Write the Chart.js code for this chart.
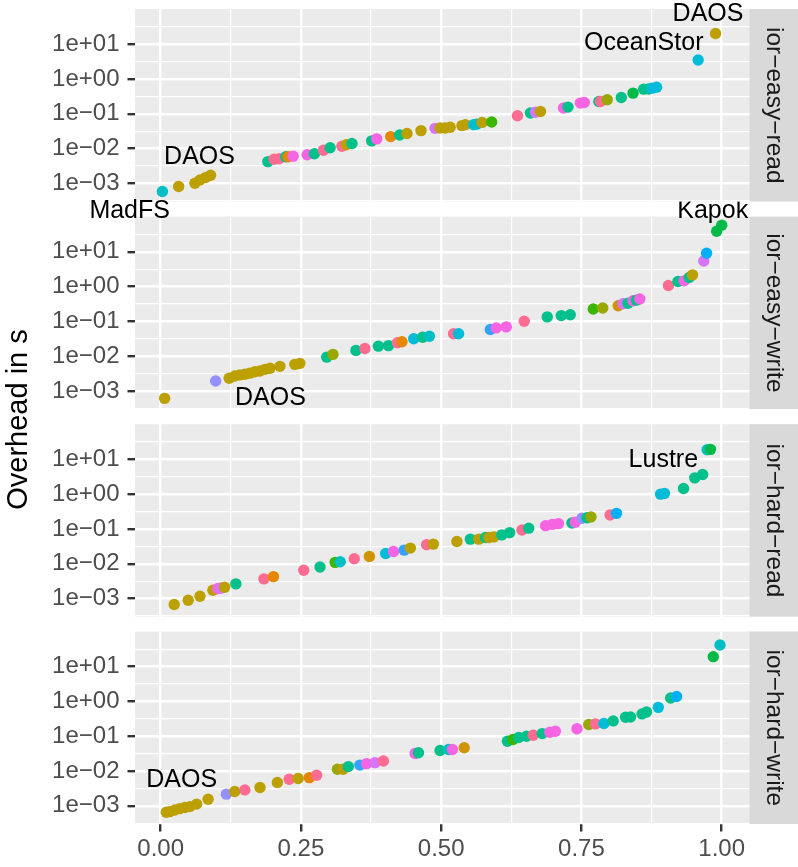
<!DOCTYPE html>
<html><head><meta charset="utf-8">
<script src="https://cdn.jsdelivr.net/npm/chart.js@4/dist/chart.umd.min.js"></script>
<style>
html,body{margin:0;padding:0;background:#ffffff;}
#wrap{position:relative;width:798px;height:867px;overflow:hidden;}
#wrap canvas{position:absolute;left:0;top:0;}
</style></head>
<body><div id="wrap"></div>
<script>
// ---------------- DATA ----------------
const panelNames = ['ior−easy−read', 'ior−easy−write', 'ior−hard−read', 'ior−hard−write'];
const yAxisTitle = 'Overhead in s';
const xTickValues = [0, 0.25, 0.5, 0.75, 1];
const xTickLabels = ['0.00', '0.25', '0.50', '0.75', '1.00'];
const xMinorValues = [0.125, 0.375, 0.625, 0.875];
const yTickValues = [1e-3, 1e-2, 1e-1, 1, 10];
const yTickLabels = ['1e−03', '1e−02', '1e−01', '1e+00', '1e+01'];
const yMinorValues = [3.16e-4, 3.16e-3, 3.16e-2, 0.316, 3.16, 31.6];

const easyReadX = [0.003,0.032,0.061,0.070,0.080,0.089,0.191,0.202,0.211,0.223,0.227,0.236,0.261,0.274,0.290,0.302,0.323,0.331,0.341,0.376,0.385,0.410,0.426,0.439,0.464,0.489,0.498,0.507,0.516,0.537,0.543,0.558,0.563,0.573,0.590,0.636,0.659,0.668,0.677,0.718,0.726,0.748,0.755,0.781,0.784,0.796,0.821,0.842,0.861,0.870,0.876,0.884,0.958,0.989];
const easyReadY = [0.00058,0.00081,0.0010,0.00124,0.00146,0.0017,0.0042,0.0049,0.0051,0.0058,0.0058,0.0060,0.0066,0.0071,0.0089,0.0105,0.0116,0.0128,0.0139,0.0166,0.0189,0.0220,0.0245,0.0269,0.0327,0.0380,0.0389,0.0389,0.0407,0.0454,0.0485,0.0485,0.0501,0.0562,0.0579,0.0877,0.105,0.110,0.116,0.146,0.155,0.202,0.209,0.225,0.225,0.251,0.292,0.390,0.508,0.513,0.542,0.579,3.49,20.2];
const easyReadSys = ['MadFS','DAOS','DAOS','DAOS','DAOS','DAOS','Lustre','S1','S1','Lustre','S3','S2','S2','Lustre','S1','Lustre','S1','DAOS','Lustre','Lustre','S2','S3','Lustre','DAOS','DAOS','S4','DAOS','DAOS','DAOS','DAOS','DAOS','OceanStor','MadFS','DAOS','S5','S1','Lustre','S4','DAOS','S2','Lustre','S2','S2','Lustre','S1','S6','Lustre','Kapok','Lustre','Lustre','OceanStor','OceanStor','OceanStor','DAOS'];

const easyWriteX = [0.007,0.098,0.122,0.132,0.141,0.150,0.159,0.168,0.177,0.186,0.195,0.2125,0.239,0.248,0.296,0.307,0.348,0.364,0.388,0.406,0.422,0.430,0.451,0.467,0.479,0.522,0.531,0.5875,0.598,0.616,0.648,0.689,0.714,0.730,0.771,0.788,0.8155,0.824,0.833,0.842,0.848,0.854,0.905,0.922,0.933,0.942,0.948,0.968,0.973,0.991,1.0];
const easyWriteY = [0.00061,0.00193,0.00231,0.00269,0.00288,0.00302,0.00324,0.00355,0.00372,0.00417,0.00447,0.00508,0.00579,0.00619,0.00933,0.0112,0.0146,0.0166,0.0193,0.0200,0.0242,0.0258,0.0314,0.0349,0.0372,0.0437,0.0437,0.0579,0.0646,0.0692,0.100,0.134,0.146,0.155,0.226,0.242,0.281,0.321,0.331,0.389,0.407,0.437,1.07,1.39,1.455,1.807,2.158,5.42,8.99,38.9,57.9];
const easyWriteSys = ['DAOS','S10','DAOS','DAOS','DAOS','DAOS','DAOS','DAOS','DAOS','DAOS','DAOS','DAOS','DAOS','DAOS','Lustre','S6','Lustre','S1','Lustre','Lustre','S1','S3','OceanStor','Lustre','MadFS','S1','OceanStor','S8','S2','S2','S1','Lustre','Lustre','Lustre','S5','S6','S7','S4','Lustre','S2','Lustre','S2','S1','Lustre','S2','Lustre','DAOS','S4','S9','Kapok','Kapok'];

const hardReadX = [0.024,0.049,0.070,0.093,0.102,0.108,0.114,0.134,0.184,0.201,0.255,0.284,0.311,0.320,0.345,0.372,0.401,0.415,0.434,0.445,0.474,0.486,0.528,0.552,0.567,0.579,0.585,0.594,0.608,0.622,0.644,0.656,0.686,0.698,0.709,0.733,0.739,0.751,0.760,0.767,0.801,0.8125,0.891,0.898,0.932,0.952,0.966,0.974,0.980];
const hardReadY = [0.00067,0.00089,0.00116,0.00173,0.00193,0.00200,0.00210,0.00263,0.00366,0.00426,0.00646,0.00805,0.0109,0.0114,0.0139,0.0162,0.0197,0.0224,0.0246,0.0281,0.0349,0.0366,0.0434,0.0508,0.0508,0.0564,0.0564,0.0589,0.0675,0.0783,0.0933,0.105,0.124,0.135,0.142,0.148,0.155,0.202,0.209,0.219,0.251,0.280,1.00,1.05,1.455,2.924,3.656,18.9,19.3];
const hardReadSys = ['DAOS','DAOS','DAOS','DAOS','S2','S4','DAOS','Lustre','S1','S3','S1','Lustre','S5','MadFS','S1','S7','OceanStor','S2','S8','DAOS','S1','DAOS','DAOS','Lustre','DAOS','Lustre','DAOS','DAOS','Lustre','Lustre','S1','Lustre','S2','S2','S2','Lustre','S2','S10','Lustre','S6','S1','S9','OceanStor','OceanStor','Lustre','Lustre','Lustre','MadFS','Kapok'];

const hardWriteX = [0.010,0.016,0.025,0.034,0.043,0.052,0.064,0.0845,0.117,0.132,0.150,0.177,0.208,0.229,0.245,0.265,0.278,0.315,0.325,0.3345,0.355,0.367,0.382,0.397,0.4536,0.4595,0.498,0.513,0.520,0.541,0.618,0.628,0.638,0.652,0.664,0.680,0.6935,0.7036,0.742,0.763,0.775,0.790,0.8066,0.8286,0.8375,0.858,0.866,0.887,0.909,0.9196,0.985,0.997];
const hardWriteY = [0.00065,0.00068,0.00076,0.00083,0.00089,0.00095,0.00112,0.00155,0.00216,0.00258,0.00286,0.00336,0.00468,0.00579,0.00607,0.00646,0.00753,0.0112,0.0112,0.0134,0.0148,0.0163,0.0174,0.0193,0.0321,0.0336,0.0390,0.0417,0.0417,0.0467,0.0719,0.0805,0.0918,0.100,0.107,0.119,0.130,0.139,0.163,0.216,0.226,0.231,0.275,0.349,0.358,0.437,0.498,0.675,1.25,1.39,19.3,41.7];
const hardWriteSys = ['DAOS','DAOS','DAOS','DAOS','DAOS','DAOS','DAOS','DAOS','S10','DAOS','S1','DAOS','DAOS','S1','DAOS','S3','S1','S6','DAOS','Lustre','S8','S2','S4','S1','S2','Lustre','Lustre','MadFS','S2','S7','Lustre','S5','Lustre','Lustre','S1','Lustre','S2','S2','S2','S6','S1','OceanStor','Lustre','Lustre','Lustre','Lustre','Lustre','OceanStor','Lustre','S9','Kapok','MadFS'];

// text annotations (data coordinates of the label centre)
const noteText  = ['DAOS', 'OceanStor', 'DAOS', 'MadFS', 'Kapok', 'DAOS', 'Lustre', 'DAOS'];
const notePanel = [0, 0, 0, 0, 1, 1, 2, 3];
const noteX     = [0.9756, 0.861, 0.0692, -0.0553, 0.984, 0.1957, 0.896, 0.0374];
const noteY     = [71.0, 10.7, 0.00571, 0.000164, 146.6, 0.000611, 9.35, 0.00546];

// ---------------- STYLE ----------------
const sysColour = {
  DAOS: '#BBA000', MadFS: '#00BFC4', OceanStor: '#00BCD8', Kapok: '#00BA48', Lustre: '#00C08B',
  S1: '#FF6C91', S2: '#F564E3', S3: '#E58700', S4: '#D874F8', S5: '#39B600',
  S6: '#99A800', S7: '#CF9400', S8: '#35A2FF', S9: '#00B0F6', S10: '#9590FF'
};
const FONT = '"Liberation Sans", Arial, Helvetica, sans-serif';
Chart.defaults.font.family = FONT;
const W = 798, H = 867;
const PANEL_H = 192.5;
const panelTops = [9, 216.6, 424.2, 631.5];
const PANEL_LEFT = 135, PANEL_RIGHT = 749.3;
const X_MIN = -0.0458, X_MAX = 1.0492;
const Y_MIN = Math.pow(10, -3.503), Y_MAX = Math.pow(10, 2.009);

const panelXs = [easyReadX, easyWriteX, hardReadX, hardWriteX];
const panelYs = [easyReadY, easyWriteY, hardReadY, hardWriteY];
const panelSys = [easyReadSys, easyWriteSys, hardReadSys, hardWriteSys];

function yLabelFor(v) {
  for (let k = 0; k < yTickValues.length; k++) {
    if (Math.abs(Math.log10(v) - Math.log10(yTickValues[k])) < 1e-6) return yTickLabels[k];
  }
  return '';
}
function xLabelFor(v) {
  for (let k = 0; k < xTickValues.length; k++) {
    if (Math.abs(v - xTickValues[k]) < 1e-9) return xTickLabels[k];
  }
  return '';
}
const isMajorY = (v) => yLabelFor(v) !== '';
const isMajorX = (v) => xLabelFor(v) !== '';

const decoPlugin = {
  id: 'deco',
  beforeDraw(chart, args, opts) {
    const ctx = chart.ctx, a = chart.chartArea;
    ctx.save();
    ctx.fillStyle = '#EBEBEB';
    ctx.fillRect(a.left, a.top, a.right - a.left, a.bottom - a.top);
    ctx.fillStyle = '#D9D9D9';
    ctx.fillRect(a.right, a.top, chart.width - a.right, a.bottom - a.top);
    ctx.translate((a.right + chart.width) / 2 + 0.5, (a.top + a.bottom) / 2);
    ctx.rotate(Math.PI / 2);
    ctx.fillStyle = '#1A1A1A';
    ctx.font = '24.5px ' + FONT;
    ctx.textAlign = 'center';
    ctx.textBaseline = 'middle';
    ctx.fillText(panelNames[opts.panel], 0, 0);
    ctx.restore();
  },
  afterDraw(chart, args, opts) {
    const ctx = chart.ctx;
    ctx.save();
    ctx.fillStyle = '#000000';
    ctx.font = '25px ' + FONT;
    ctx.textAlign = 'center';
    ctx.textBaseline = 'middle';
    for (let k = 0; k < noteText.length; k++) {
      if (notePanel[k] !== opts.panel) continue;
      const px = chart.scales.x.getPixelForValue(noteX[k]);
      const py = chart.scales.y.getPixelForValue(noteY[k]);
      ctx.fillText(noteText[k], px, py);
    }
    if (opts.panel === 0) {
      ctx.translate(27, (panelTops[0] + panelTops[3] + PANEL_H) / 2 + 3);
      ctx.rotate(-Math.PI / 2);
      ctx.font = '29px ' + FONT;
      ctx.textBaseline = 'alphabetic';
      ctx.fillText(yAxisTitle, 0, 0);
    }
    ctx.restore();
  }
};

const wrap = document.getElementById('wrap');
for (let p = 0; p < 4; p++) {
  const cv = document.createElement('canvas');
  cv.width = W; cv.height = H;
  cv.style.width = W + 'px'; cv.style.height = H + 'px';
  cv.style.zIndex = String(10 - p);
  wrap.appendChild(cv);
  const last = (p === 3);
  const xs = panelXs[p], ys = panelYs[p], ss = panelSys[p];
  new Chart(cv.getContext('2d'), {
    type: 'scatter',
    data: {
      datasets: [{
        data: xs.map((x, k) => ({ x: x, y: ys[k] })),
        backgroundColor: ss.map(s => sysColour[s]),
        borderColor: ss.map(s => sysColour[s]),
        borderWidth: 0,
        pointRadius: 5.7,
        pointHoverRadius: 5.7,
        clip: false
      }]
    },
    options: {
      responsive: false,
      animation: false,
      devicePixelRatio: 1,
      events: [],
      layout: {
        padding: {
          top: panelTops[p],
          left: 0,
          right: W - PANEL_RIGHT,
          bottom: last ? 0 : H - (panelTops[p] + PANEL_H)
        }
      },
      plugins: {
        legend: { display: false },
        tooltip: { enabled: false },
        deco: { panel: p }
      },
      scales: {
        x: {
          type: 'linear',
          min: X_MIN, max: X_MAX,
          afterBuildTicks: (axis) => {
            axis.ticks = xTickValues.concat(xMinorValues).sort((a, b) => a - b).map(v => ({ value: v }));
          },
          afterFit: (axis) => {
            axis.height = last ? H - (panelTops[3] + PANEL_H) : 0;
            axis.paddingLeft = 0; axis.paddingRight = 0;
          },
          border: { display: false },
          grid: {
            color: '#FFFFFF',
            lineWidth: (c) => (c.tick && isMajorX(c.tick.value)) ? 2.4 : 1.2,
            drawTicks: last,
            tickLength: 7.5,
            tickWidth: 2.4,
            tickColor: (c) => (c.tick && isMajorX(c.tick.value)) ? '#333333' : 'rgba(0,0,0,0)'
          },
          ticks: {
            display: last,
            autoSkip: false,
            maxRotation: 0,
            padding: 3,
            color: '#4D4D4D',
            font: { size: 24, family: FONT },
            callback: (v) => xLabelFor(v)
          }
        },
        y: {
          type: 'logarithmic',
          min: Y_MIN, max: Y_MAX,
          afterBuildTicks: (axis) => {
            axis.ticks = yTickValues.concat(yMinorValues).sort((a, b) => a - b).map(v => ({ value: v }));
          },
          afterFit: (axis) => {
            axis.width = PANEL_LEFT;
            axis.paddingTop = 0; axis.paddingBottom = 0;
          },
          border: { display: false },
          grid: {
            color: '#FFFFFF',
            lineWidth: (c) => (c.tick && isMajorY(c.tick.value)) ? 2.4 : 1.2,
            drawTicks: true,
            tickLength: 7.5,
            tickWidth: 2.4,
            tickColor: (c) => (c.tick && isMajorY(c.tick.value)) ? '#333333' : 'rgba(0,0,0,0)'
          },
          ticks: {
            autoSkip: false,
            padding: 8,
            color: '#4D4D4D',
            font: { size: 24, family: FONT },
            callback: (v) => yLabelFor(v)
          }
        }
      }
    },
    plugins: [decoPlugin]
  });
}
</script>
</body></html>
